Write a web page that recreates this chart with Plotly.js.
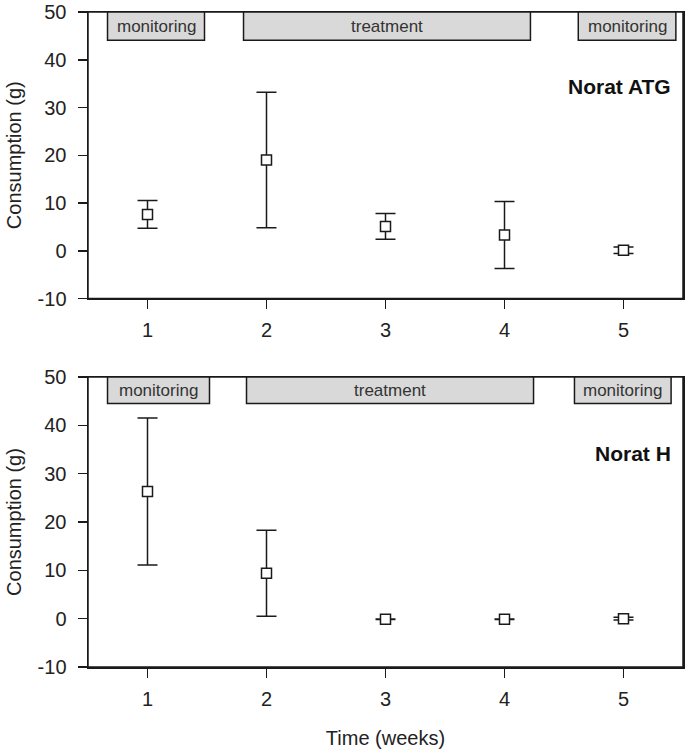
<!DOCTYPE html>
<html>
<head>
<meta charset="utf-8">
<script src="https://cdn.plot.ly/plotly-3.0.1.min.js"></script>
<style>html,body{margin:0;padding:0;background:#fff;}#chart{width:685px;height:751px;}</style>
</head>
<body>
<div id="chart"></div>
<script>
// ---- data ----
var weeks = [1, 2, 3, 4, 5];
var xTickLabels = ["1", "2", "3", "4", "5"];
var yTickVals = [-10, 0, 10, 20, 30, 40, 50];
var yTickLabels = ["-10", "0", "10", "20", "30", "40", "50"];
var atgMean = [7.6, 19.0, 5.1, 3.3, 0.1];
var atgErr  = [2.9, 14.2, 2.7, 7.0, 0.7];
var hMean   = [26.3, 9.4, -0.1, -0.1, 0.0];
var hErr    = [15.2, 8.9, 0.05, 0.05, 0.3];
var panelNames = ["Norat ATG", "Norat H"];
var phaseLabels = ["monitoring", "treatment", "monitoring"];
var phaseStartTop = [0.664, 1.807, 4.62];
var phaseEndTop   = [1.479, 4.218, 5.44];
var phaseStartBot = [0.664, 1.832, 4.588];
var phaseEndBot   = [1.521, 4.244, 5.40];

var FONT = "Liberation Sans, Arial, sans-serif";
var INK = "#1a1a1a";

function trace(y, err, xa, ya) {
  return {
    x: weeks, y: y, xaxis: xa, yaxis: ya, type: "scatter", mode: "markers",
    marker: {symbol: "square", size: 10, color: "#ffffff", line: {color: INK, width: 1.5}},
    error_y: {type: "data", array: err, visible: true, color: INK, thickness: 1.5, width: 10},
    showlegend: false, hoverinfo: "skip", cliponaxis: false
  };
}

var data = [trace(atgMean, atgErr, "x", "y"), trace(hMean, hErr, "x2", "y2")];

function xaxis(domainAnchor, showTitle) {
  var a = {
    anchor: domainAnchor, range: [0.5, 5.5], tickvals: weeks, ticktext: xTickLabels,
    ticks: "outside", ticklen: 9, tickwidth: 1.5, tickcolor: INK, ticklabelstandoff: 4,
    ticklabeloverflow: "allow",
    showline: true, linecolor: INK, linewidth: 1.5, mirror: true,
    showgrid: false, zeroline: false,
    tickfont: {family: FONT, size: 20, color: "#222"}
  };
  if (showTitle) a.title = {text: "Time (weeks)", font: {family: FONT, size: 20, color: "#222"}, standoff: 22};
  return a;
}
function yaxis(domain, anchor) {
  return {
    domain: domain, anchor: anchor, range: [-10, 50], tickvals: yTickVals, ticktext: yTickLabels,
    ticks: "outside", ticklen: 9, tickwidth: 1.5, tickcolor: INK, ticklabelstandoff: 7,
    ticklabeloverflow: "allow",
    showline: true, linecolor: INK, linewidth: 1.5, mirror: true,
    showgrid: false, zeroline: false,
    tickfont: {family: FONT, size: 20, color: "#222"},
    title: {text: "Consumption (g)", font: {family: FONT, size: 20, color: "#222"}, standoff: 10}
  };
}

var shapes = [
  {type: "rect", xref: "x domain", yref: "y domain", x0: 0, x1: 1, y0: 0, y1: 1,
   line: {color: INK, width: 1.5}, fillcolor: "rgba(0,0,0,0)", layer: "above"},
  {type: "rect", xref: "x2 domain", yref: "y2 domain", x0: 0, x1: 1, y0: 0, y1: 1,
   line: {color: INK, width: 1.5}, fillcolor: "rgba(0,0,0,0)", layer: "above"}
];
var annotations = [];
function addPhases(starts, ends, xr, yr, ybot) {
  for (var i = 0; i < phaseLabels.length; i++) {
    shapes.push({type: "rect", xref: xr, yref: yr, x0: starts[i], x1: ends[i], y0: ybot, y1: 50,
      fillcolor: "#d9d9d9", line: {color: INK, width: 1.5}, layer: "above"});
    annotations.push({xref: xr, yref: yr, x: (starts[i] + ends[i]) / 2, y: (ybot + 50) / 2,
      text: phaseLabels[i], showarrow: false, xanchor: "center", yanchor: "middle",
      font: {family: FONT, size: 17, color: "#333"}});
  }
}
addPhases(phaseStartTop, phaseEndTop, "x", "y", 44.1);
addPhases(phaseStartBot, phaseEndBot, "x2", "y2", 44.5);
annotations.push({xref: "x", yref: "y", x: 5.42, y: 34.3, text: "<b>" + panelNames[0] + "</b>",
  showarrow: false, xanchor: "right", yanchor: "middle", font: {family: FONT, size: 21, color: "#111"}});
annotations.push({xref: "x2", yref: "y2", x: 5.42, y: 34.1, text: "<b>" + panelNames[1] + "</b>",
  showarrow: false, xanchor: "right", yanchor: "middle", font: {family: FONT, size: 21, color: "#111"}});

var layout = {
  width: 685, height: 751,
  margin: {l: 88, r: 2, t: 12, b: 84},
  paper_bgcolor: "#fff", plot_bgcolor: "#fff",
  xaxis: xaxis("y", false),
  yaxis: yaxis([0.5626, 1], "x"),
  xaxis2: xaxis("y2", true),
  yaxis2: yaxis([0, 0.4427], "x2"),
  shapes: shapes, annotations: annotations
};

Plotly.newPlot("chart", data, layout, {staticPlot: true});
</script>
</body>
</html>
